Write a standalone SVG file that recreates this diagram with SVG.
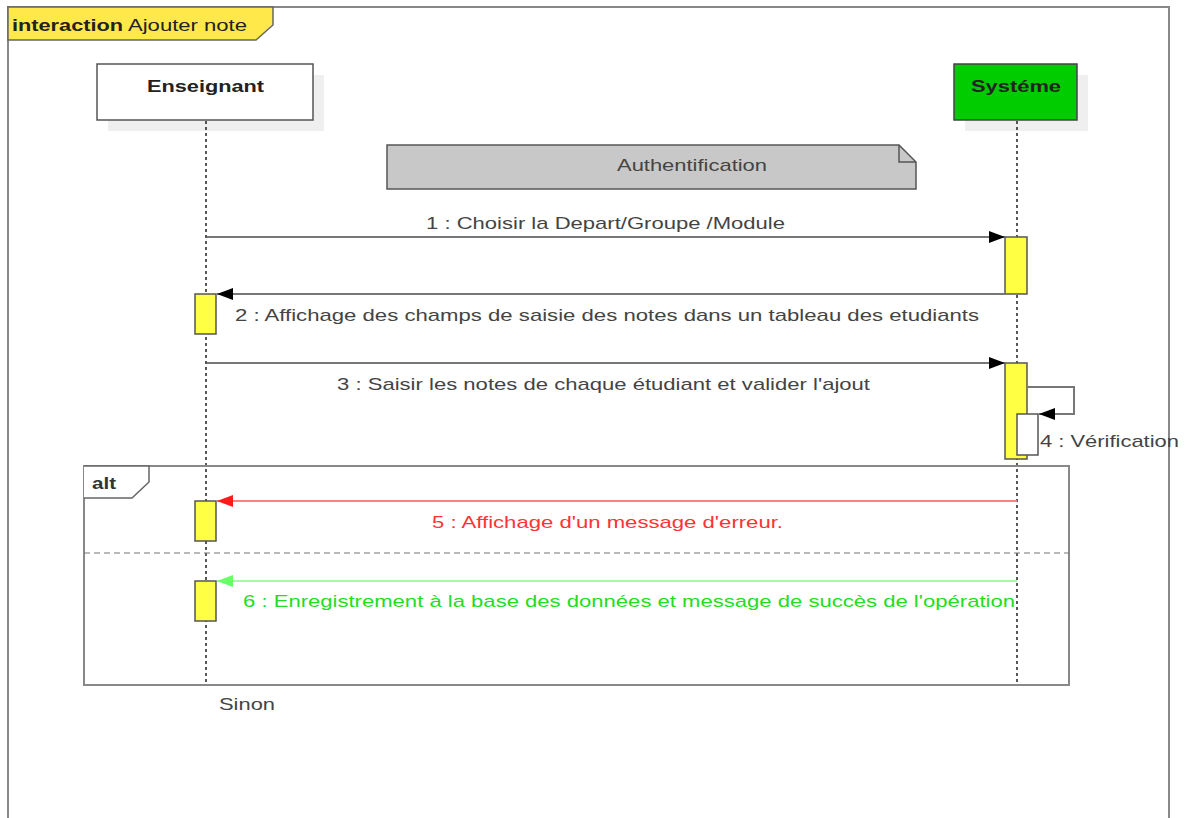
<svg xmlns="http://www.w3.org/2000/svg" width="1185" height="818" viewBox="0 0 1185 818">
<defs>
<style>
text{font-family:"Liberation Sans",Arial,sans-serif;}
.lbl{font-size:17px;fill:#444;}
.bold{font-weight:bold;fill:#222;font-size:17px;}
.msg{stroke:#777;stroke-width:2;fill:none;}
.life{stroke:#222;stroke-width:1.5;stroke-dasharray:3 3;fill:none;}
.act{fill:#FFFF44;stroke:#555;stroke-width:1.5;}
.frame{fill:none;stroke:#888;stroke-width:2;}
</style>
<marker id="arrBig" viewBox="0 0 16 12" refX="16" refY="6" markerWidth="16" markerHeight="12" markerUnits="userSpaceOnUse" orient="auto"><path d="M0,0 L16,6 L0,12 z" fill="#000"/></marker>
<marker id="arrR" viewBox="0 0 16 12" refX="16" refY="6" markerWidth="16" markerHeight="12" markerUnits="userSpaceOnUse" orient="auto"><path d="M0,0 L16,6 L0,12 z" fill="#FF1A1A"/></marker>
<marker id="arrG" viewBox="0 0 16 12" refX="16" refY="6" markerWidth="16" markerHeight="12" markerUnits="userSpaceOnUse" orient="auto"><path d="M0,0 L16,6 L0,12 z" fill="#66FF66"/></marker>
</defs>
<rect width="1185" height="818" fill="#fff"/>
<g id="frame">
<rect class="frame" x="8" y="7" width="1161" height="830"/>
<path d="M8,7 L273,7 L273,25 L256,40 L8,40 Z" fill="#FFE84A" stroke="#666" stroke-width="1.5"/>
<text x="12" y="31" textLength="111" lengthAdjust="spacingAndGlyphs" style="font-size:17px;font-weight:bold;fill:#222">interaction</text>
<text x="128" y="31" textLength="119" lengthAdjust="spacingAndGlyphs" style="font-size:17px;fill:#222">Ajouter note</text>
</g>
<g id="enseignant">
<rect x="108" y="75" width="216" height="56" fill="#EFEFEF"/>
<rect x="97" y="64" width="216" height="56" fill="#fff" stroke="#555" stroke-width="1.5"/>
<text class="bold" x="205.5" y="92" text-anchor="middle" textLength="117" lengthAdjust="spacingAndGlyphs">Enseignant</text>
<line class="life" x1="206" y1="121" x2="206" y2="685"/>
</g>
<g id="systeme">
<rect x="965" y="75" width="123" height="56" fill="#EFEFEF"/>
<rect x="954" y="64" width="123" height="56" fill="#00CC00" stroke="#444" stroke-width="1.5"/>
<text class="bold" x="1016" y="92" text-anchor="middle" textLength="90" lengthAdjust="spacingAndGlyphs">Systéme</text>
<line class="life" x1="1017" y1="121" x2="1017" y2="685"/>
</g>
<g id="authentification">
<path d="M387,145 L899,145 L916,162 L916,189 L387,189 Z" fill="#C8C8C8" stroke="#555" stroke-width="1.5"/>
<path d="M899,145 L899,162 L916,162" fill="none" stroke="#555" stroke-width="1.5"/>
<text class="lbl" x="692" y="171" text-anchor="middle" textLength="150" lengthAdjust="spacingAndGlyphs">Authentification</text>
</g>
<g id="alt">
<rect class="frame" x="84" y="466" width="985" height="219"/>
<path d="M84,466 L149,466 L149,482 L132,498 L84,498" fill="#fff" stroke="#666" stroke-width="1.5"/>
<text x="92" y="489" textLength="24" lengthAdjust="spacingAndGlyphs" style="font-size:17px;font-weight:bold;fill:#333">alt</text>
<line x1="84" y1="553" x2="1069" y2="553" stroke="#777" stroke-width="1.2" stroke-dasharray="6 4"/>
</g>
<g id="activations">
<rect class="act" x="1005" y="237" width="22" height="57"/>
<rect class="act" x="195" y="294" width="21" height="40"/>
<rect class="act" x="1005" y="363" width="22" height="96"/>
<rect x="1017" y="414" width="21" height="41" fill="#fff" stroke="#555" stroke-width="1.5"/>
<rect class="act" x="195" y="501" width="21" height="40"/>
<rect class="act" x="195" y="581" width="21" height="40"/>
</g>
<g id="connectors">
<line class="msg" x1="207" y1="237" x2="1005" y2="237" marker-end="url(#arrBig)"/>
<line class="msg" x1="1005" y1="294" x2="217" y2="294" marker-end="url(#arrBig)"/>
<line class="msg" x1="207" y1="363" x2="1005" y2="363" marker-end="url(#arrBig)"/>
<path class="msg" d="M1027,387 L1074,387 L1074,414 L1039,414" marker-end="url(#arrBig)"/>
<line x1="1017" y1="501" x2="217" y2="501" stroke="#FF8080" stroke-width="2" marker-end="url(#arrR)"/>
<line x1="1017" y1="581" x2="217" y2="581" stroke="#A0FFA0" stroke-width="2" marker-end="url(#arrG)"/>
</g>
<g id="labels">
<text class="lbl" x="426" y="229" textLength="359" lengthAdjust="spacingAndGlyphs">1 : Choisir la Depart/Groupe /Module</text>
<text class="lbl" x="235" y="321" textLength="744" lengthAdjust="spacingAndGlyphs">2 : Affichage des champs de saisie des notes dans un tableau des etudiants</text>
<text class="lbl" x="337" y="390" textLength="533" lengthAdjust="spacingAndGlyphs">3 : Saisir les notes de chaque étudiant et valider l'ajout</text>
<text class="lbl" x="1040" y="447" textLength="139" lengthAdjust="spacingAndGlyphs">4 : Vérification</text>
<text x="432" y="528" textLength="351" lengthAdjust="spacingAndGlyphs" style="font-size:17px;fill:#FF3333">5 : Affichage d'un message d'erreur.</text>
<text x="243" y="607" textLength="772" lengthAdjust="spacingAndGlyphs" style="font-size:17px;fill:#22DD22">6 : Enregistrement à la base des données et message de succès de l'opération</text>
<text class="lbl" x="219" y="710" textLength="56" lengthAdjust="spacingAndGlyphs">Sinon</text>
</g>
</svg>
